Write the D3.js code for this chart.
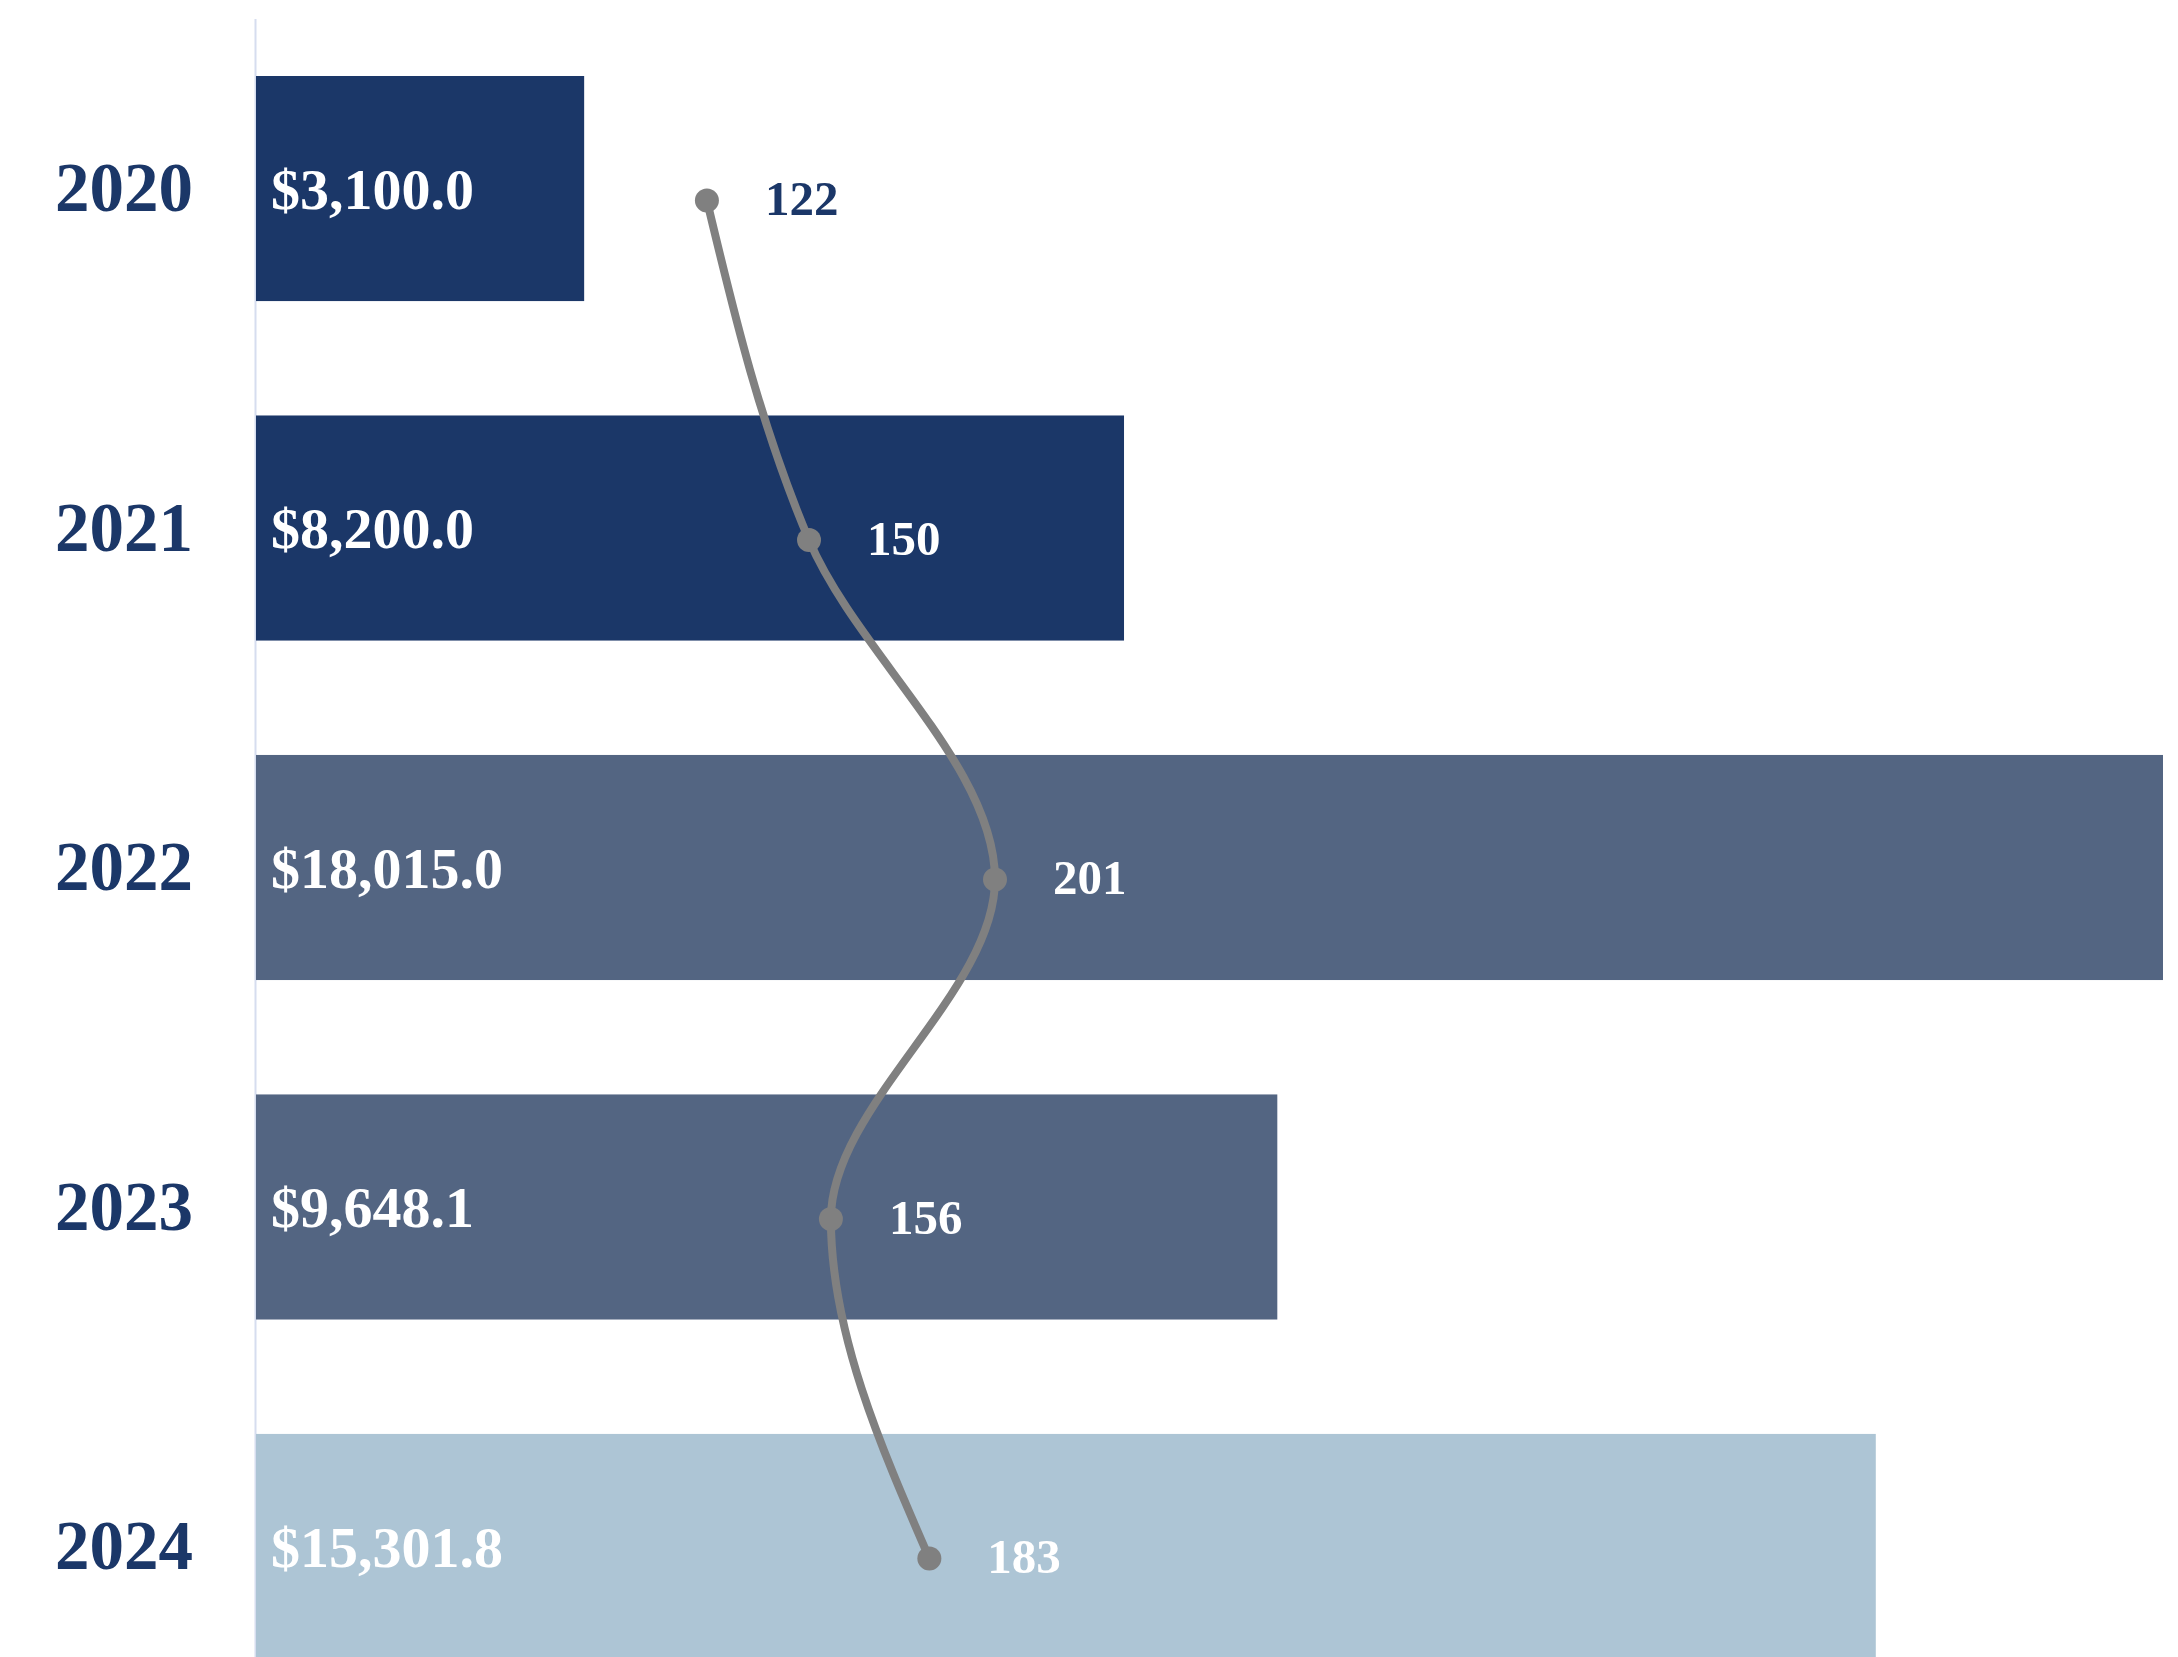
<!DOCTYPE html>
<html>

<head>
    <script src="https://d3js.org/d3.v7.min.js"></script>
    <style>
        body {
            margin: 0;
            background-color: #ffffff;
            font-family: 'Liberation Serif', 'DejaVu Serif', serif;
        }
    </style>
    <title>Revenue and count by year</title>
</head>

<body>
    <svg id="chart" width="2178" height="1657"></svg>

    <script>
        // data
        var years = ["2020", "2021", "2022", "2023", "2024"];
        var amounts = [3100.0, 8200.0, 18015.0, 9648.1, 15301.8];
        var counts = [122, 150, 201, 156, 183];
        var barColors = ["#1b3768", "#1b3768", "#536582", "#536582", "#adc5d5"];

        var navy = "#1b3768";
        var svg = d3.select("#chart");

        var rows = years.map(function (y, i) {
            return { year: y, amount: amounts[i], count: counts[i], color: barColors[i] };
        });

        var xScale = d3.scaleLinear()
            .domain([0, d3.max(amounts)])
            .range([256, 2163]);

        var countScale = d3.scaleLinear()
            .domain([0, d3.max(counts)])
            .range([262, 995]);

        var yScale = d3.scaleBand()
            .domain(years)
            .range([76, 1659])
            .paddingInner(0.337)
            .paddingOuter(0);

        var bw = yScale.bandwidth();

        // left axis line
        svg.append("line")
            .attr("x1", xScale(0) - 0.5)
            .attr("x2", xScale(0) - 0.5)
            .attr("y1", 19)
            .attr("y2", 1657)
            .attr("stroke", "#d6ddef")
            .attr("stroke-width", 2);

        // bars
        svg.selectAll(".bar")
            .data(rows)
            .enter()
            .append("rect")
            .attr("class", "bar")
            .attr("x", xScale(0))
            .attr("y", function (d) { return yScale(d.year); })
            .attr("width", function (d) { return xScale(d.amount) - xScale(0); })
            .attr("height", bw)
            .attr("fill", function (d) { return d.color; });

        // year labels
        svg.selectAll(".year")
            .data(rows)
            .enter()
            .append("text")
            .attr("class", "year")
            .attr("x", 193)
            .attr("y", function (d) { return yScale(d.year) + bw / 2; })
            .attr("dy", "0.33em")
            .attr("text-anchor", "end")
            .attr("font-size", "69px")
            .attr("font-weight", "bold")
            .attr("fill", navy)
            .text(function (d) { return d.year; });

        // amount labels inside the bars
        var fmt = d3.format(",.1f");
        svg.selectAll(".amount")
            .data(rows)
            .enter()
            .append("text")
            .attr("class", "amount")
            .attr("x", xScale(0) + 15)
            .attr("y", function (d) { return yScale(d.year) + bw / 2; })
            .attr("dy", "0.35em")
            .attr("font-size", "58px")
            .attr("font-weight", "bold")
            .attr("fill", "#ffffff")
            .text(function (d) { return "$" + fmt(d.amount); });

        // count line
        var pointY = function (d) { return yScale(d.year) + bw / 2 + 12; };

        svg.append("path")
            .datum(rows)
            .attr("fill", "none")
            .attr("stroke", "#808080")
            .attr("stroke-width", 8)
            .attr("d", d3.line()
                .curve(d3.curveMonotoneY)
                .x(function (d) { return countScale(d.count); })
                .y(pointY));

        svg.selectAll(".dot")
            .data(rows)
            .enter()
            .append("circle")
            .attr("class", "dot")
            .attr("cx", function (d) { return countScale(d.count); })
            .attr("cy", pointY)
            .attr("r", 12)
            .attr("fill", "#808080");

        svg.selectAll(".count")
            .data(rows)
            .enter()
            .append("text")
            .attr("class", "count")
            .attr("x", function (d) { return countScale(d.count) + 58; })
            .attr("y", pointY)
            .attr("dy", "0.3em")
            .attr("font-size", "49px")
            .attr("font-weight", "bold")
            .attr("fill", function (d) {
                return countScale(d.count) + 58 < xScale(d.amount) ? "#ffffff" : navy;
            })
            .text(function (d) { return d.count; });
    </script>
</body>
</html>
